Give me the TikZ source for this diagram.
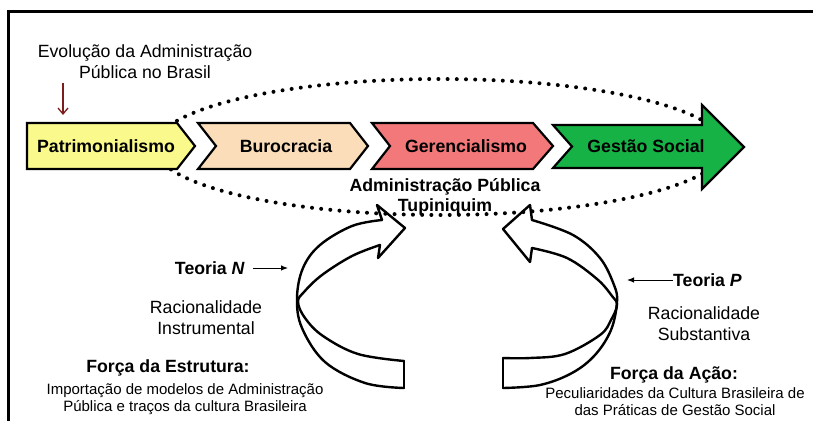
\documentclass[tikz,border=0pt]{standalone}
\usepackage{fontspec}
\setmainfont{Liberation Sans}
\usetikzlibrary{arrows.meta}
\definecolor{patri}{RGB}{250,250,140}
\definecolor{buro}{RGB}{252,221,186}
\definecolor{geren}{RGB}{243,120,122}
\definecolor{gestao}{RGB}{22,178,70}
\definecolor{maroon}{RGB}{125,30,30}
\tikzset{
  lbl/.style={font=\fontsize{17.7}{21}\selectfont, align=center, inner sep=0pt},
  blbl/.style={font=\fontsize{17.7}{20.5}\selectfont\bfseries, align=center, inner sep=0pt},
  smalltxt/.style={font=\fontsize{15}{17}\selectfont, align=center, inner sep=0pt},
  stage/.style={draw=black, line width=2.2pt, line join=miter},
  band/.style={draw=black, line width=2.4pt, line join=round, line cap=round},
  dotline/.style={line width=4pt, dash pattern=on 0pt off 9.2pt, line cap=round},
  pointer/.style={line width=1pt, -{Latex[length=7pt,width=5.5pt]}},
}
\begin{document}
\begin{tikzpicture}[x=1pt,y=-1pt]
\useasboundingbox (0,0) rectangle (813,420);
% frame
\draw[line width=2.6pt] (8.5,421) -- (8.5,11.5) -- (814,11.5);

% dotted ellipse
\draw[dotline] (440,147) ellipse [x radius=285, y radius=68];

% stages
\draw[stage, fill=patri] (27,123) -- (177,123) -- (195,146) -- (177,169) -- (27,169) -- cycle;
\draw[stage, fill=buro] (198,123) -- (350,123) -- (368,146) -- (350,169) -- (198,169) -- (216,146) -- cycle;
\draw[stage, fill=geren] (372,123) -- (533,123) -- (553,146) -- (533,169) -- (372,169) -- (390,146) -- cycle;
\draw[stage, fill=gestao] (553,125) -- (702,125) -- (702,105) -- (744,147) -- (702,189) -- (702,168) -- (553,168) -- (572,146.5) -- cycle;

\node[blbl] (patrimonialismo) at (106,146) {Patrimonialismo};
\node[blbl] (burocracia) at (286,146) {Burocracia};
\node[blbl] (gerencialismo) at (466,146) {Gerencialismo};
\node[blbl] (gestao) at (646,146) {Gestão Social};

% evolution label and arrow
\node[lbl] (evol) at (145,62) {Evolução da Administração\\Pública no Brasil};
\coordinate (ev1) at (63,83);
\coordinate (ev2) at (63,115);
\draw[maroon, line width=1.3pt, -{Straight Barb[length=6pt,width=10pt]}] (ev1) -- (ev2);

% central label
\node[blbl] (apt) at (445,197) {Administração Pública\\Tupiniquim};

% left curved arrow
\draw[band] plot[smooth, tension=0.6] coordinates {(382,220) (352,226) (320,245) (303,268) (297,298) (302,328) (325,362) (365,383) (404,388)};
\draw[band] plot[smooth, tension=0.6] coordinates {(380,245) (352,256) (322,275) (304,292) (298,302) (305,318) (323,336) (358,354) (404,361)};
\draw[band] (404,361) -- (404,388);
\draw[band] (382,220) -- (377,205) -- (405,228) -- (378,258) -- (380,245);

% right curved arrow
\draw[band] plot[smooth, tension=0.6] coordinates {(532,220) (573,235) (600,258) (614,285) (617,302) (611,330) (595,355) (572,373) (540,385) (503,388)};
\draw[band] plot[smooth, tension=0.6] coordinates {(532,248) (567,258) (597,279) (612,296) (617,305) (611,320) (600,335) (565,354) (530,358) (503,358)};
\draw[band] (503,358) -- (503,388);
\draw[band] (532,220) -- (530,205) -- (503,229) -- (530,262) -- (532,248);

% left texts
\node[blbl, anchor=east] (teoriaN) at (245,268) {Teoria \textit{N}};
\coordinate (tNend) at (288,268);
\draw[pointer] ([xshift=8pt]teoriaN.east) -- (tNend);
\node[lbl] (racInst) at (206,317.5) {Racionalidade\\Instrumental};
\node[blbl] (forcaE) at (168,368) {Força da Estrutura:};
\node[smalltxt] (importacao) at (185,399.5) {Importação de modelos de Administração\\Pública e traços da cultura Brasileira};

% right texts
\node[blbl, anchor=west] (teoriaP) at (673,280) {Teoria \textit{P}};
\coordinate (tPend) at (627,280);
\draw[pointer] (teoriaP.west) -- (tPend);
\node[lbl] (racSub) at (704,324) {Racionalidade\\Substantiva};
\node[blbl] (forcaA) at (674,375) {Força da Ação:};
\node[smalltxt] (peculiar) at (675,401.5) {Peculiaridades da Cultura Brasileira de\\das Práticas de Gestão Social};
\end{tikzpicture}
\end{document}
